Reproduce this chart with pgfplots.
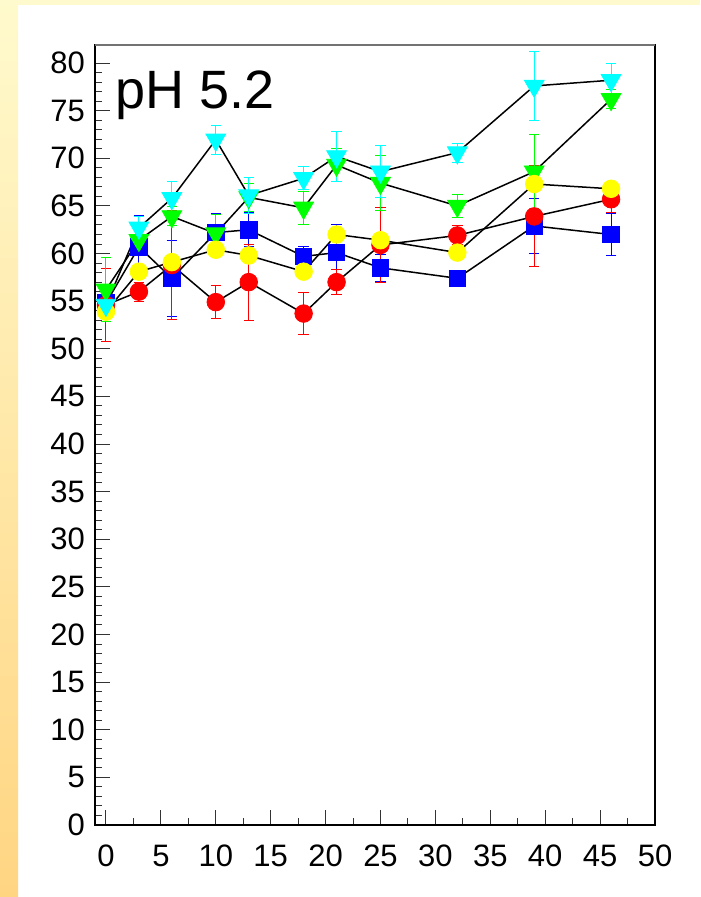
\documentclass[border=0pt]{standalone}
\usepackage{pgfplots}
\pgfplotsset{compat=1.18}
\usepackage{pgfplotstable}
\usepackage{fontspec}
\setmainfont{Liberation Sans}
\definecolor{bgtop}{RGB}{255,250,205}
\definecolor{bgbot}{RGB}{255,213,130}
\definecolor{cred}{RGB}{255,0,0}
\definecolor{cblue}{RGB}{0,0,255}
\definecolor{cyel}{RGB}{255,255,0}
\definecolor{cgreen}{RGB}{0,255,0}
\definecolor{ccyan}{RGB}{0,255,255}

\pgfplotstableread{
x y e
0 54.8 1.9
3 60.7 3.3
6 57.4 4.0
10 62.2 2.0
13 62.5 1.8
18 59.7 1.0
21 60.1 3.0
25 58.5 1.4
32 57.4 0.8
39 62.9 2.9
46 62.0 2.25
}\blueT
\pgfplotstableread{
x y e
0 54.6 3.8
3 56.0 1.0
6 58.8 5.7
10 54.9 1.75
13 57.0 4.0
18 53.7 2.2
21 57.0 1.3
25 60.9 3.9
32 61.9 1.0
39 63.9 5.3
46 65.7 1.4
}\redT
\pgfplotstableread{
x y e
0 56.2 3.35
3 61.4 1.2
6 63.9 1.0
10 62.1 2.0
13 65.9 1.5
18 64.8 1.7
21 69.3 1.7
25 67.4 2.9
32 65.0 1.2
39 68.6 3.9
46 76.2 1.0
}\greenT
\pgfplotstableread{
x y
0 53.9
3 58.1
6 59.1
10 60.4
13 59.8
18 58.1
21 62.0
25 61.4
32 60.1
39 67.3
46 66.8
}\yelT
\pgfplotstableread{
x y e
0 54.6 1.0
3 62.7 1.2
6 65.8 1.8
10 71.95 1.5
13 66.1 1.9
18 67.9 1.2
21 70.2 2.6
25 68.6 2.7
32 70.6 1.0
39 77.6 3.6
46 78.2 1.8
}\cyanT

\pgfplotsset{
  ebar/.style={error bars/.cd, y dir=both, y explicit,
    error bar style={#1, line width=0.5pt},
    error mark options={#1, rotate=90, mark size=2.6pt, line width=0.5pt}},
}

\begin{document}
\begin{tikzpicture}
\fill[white] (0,0) rectangle (350pt,448.5pt);
\shade[top color=bgtop, bottom color=bgbot] (0,0) rectangle (9pt,448.5pt);
\fill[bgtop] (0,446pt) rectangle (350pt,448.5pt);
\path[use as bounding box] (0,0) rectangle (350pt,448.5pt);
\begin{axis}[
  at={(47.5pt,36pt)}, anchor=south west,
  width=280pt, height=390pt, scale only axis,
  xmin=-1, xmax=50, ymin=0, ymax=81.9,
  xtick={0,5,...,50}, ytick={0,5,...,80},
  minor x tick num=1, minor y tick num=4,
  tick pos=left, tick align=inside,
  major tick length=7.5pt, minor tick length=3.5pt,
  tick style={black!80, line width=0.5pt},
  axis line style={black, line width=0.6pt},
  ticklabel style={font=\fontsize{15.5}{18}\selectfont},
  /pgf/number format/assume math mode=true,
  yticklabel style={xshift=-1.5pt},
  xticklabel style={yshift=-6.5pt},
  clip=false,
]
\draw[black!55, line width=1pt] (rel axis cs:0,1) -- (rel axis cs:1,1);
% connecting lines
\addplot[black, line width=0.75pt, mark=none] table[x=x,y=y] {\blueT};
\addplot[black, line width=0.75pt, mark=none] table[x=x,y=y] {\redT};
\addplot[black, line width=0.75pt, mark=none] table[x=x,y=y] {\greenT};
\addplot[black, line width=0.75pt, mark=none] table[x=x,y=y] {\yelT};
\addplot[black, line width=0.75pt, mark=none] table[x=x,y=y] {\cyanT};
% markers with error bars
\addplot[only marks, mark=square*, mark size=4.1pt, mark options={fill=cblue, draw=cblue}, ebar=cblue] table[x=x,y=y,y error=e] {\blueT};
\addplot[only marks, mark=*, mark size=4.4pt, mark options={fill=cred, draw=cred}, ebar=cred] table[x=x,y=y,y error=e] {\redT};
\addplot[only marks, mark=triangle*, mark size=5.7pt, mark options={fill=cgreen, draw=cgreen, rotate=180}, ebar=cgreen] table[x=x,y=y,y error=e] {\greenT};
\addplot[only marks, mark=*, mark size=4.4pt, mark options={fill=cyel, draw=cyel}] table[x=x,y=y] {\yelT};
\addplot[only marks, mark=triangle*, mark size=5.7pt, mark options={fill=ccyan, draw=ccyan, rotate=180}, ebar=ccyan] table[x=x,y=y,y error=e] {\cyanT};
\node[anchor=base west, inner sep=0, font=\fontsize{27}{30}\selectfont] at (axis cs:0.8,75.2) {pH 5.2};
\end{axis}
\end{tikzpicture}
\end{document}
